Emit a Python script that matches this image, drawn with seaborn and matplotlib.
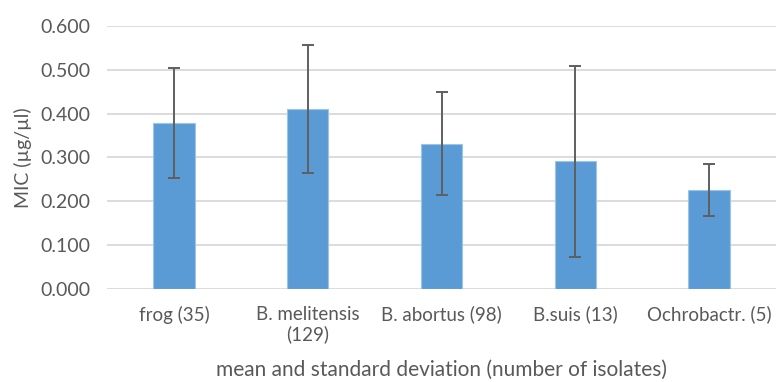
import matplotlib
matplotlib.use("Agg")
import matplotlib.pyplot as plt
import seaborn as sns
import pandas as pd

# ── data ──────────────────────────────────────────────────────────────────────
categories = ["frog (35)", "B. melitensis\n(129)", "B. abortus (98)",
              "B.suis (13)", "Ochrobactr. (5)"]
mic_mean = [0.378, 0.410, 0.331, 0.291, 0.225]
mic_sd   = [0.125, 0.146, 0.117, 0.218, 0.059]
y_ticks  = [0.0, 0.1, 0.2, 0.3, 0.4, 0.5, 0.6]

df = pd.DataFrame({"group": categories, "mic": mic_mean})

sns.set_style("white")
plt.rcParams["font.family"] = ["Lato", "DejaVu Sans"]

TXT = "#595959"

fig = plt.figure(figsize=(7.76, 3.82), dpi=100)
ax = fig.add_axes([0.138, 0.2435, 0.862, 0.689])

sns.barplot(data=df, x="group", y="mic", color="#5B9BD5", saturation=1,
            width=0.31, errorbar=None, edgecolor="#9DC3E6", linewidth=0.8,
            zorder=2, ax=ax)
ax.errorbar(range(len(categories)), mic_mean, yerr=mic_sd, fmt="none",
            ecolor="#5f5f5f", elinewidth=1.4, capsize=4, capthick=1.4, zorder=3)

ax.set_ylim(0, 0.6)
ax.set_xlim(-0.5, len(categories) - 0.5)
ax.set_yticks(y_ticks)
ax.set_yticklabels([f"{v:.3f}" for v in y_ticks])
ax.yaxis.grid(True, color="#D9D9D9", linewidth=1.3, zorder=0)
ax.set_axisbelow(True)
for s in ax.spines.values():
    s.set_visible(False)
ax.tick_params(axis="both", length=0, colors=TXT)
ax.tick_params(axis="x", pad=12, labelsize=13.5)
ax.tick_params(axis="y", pad=12, labelsize=14)

ax.set_ylabel("MIC (µg/µl)", color=TXT, fontsize=14, labelpad=6)
ax.set_xlabel("mean and standard deviation (number of isolates)",
              color=TXT, fontsize=15, labelpad=12)

fig.savefig("out.png", dpi=100)
